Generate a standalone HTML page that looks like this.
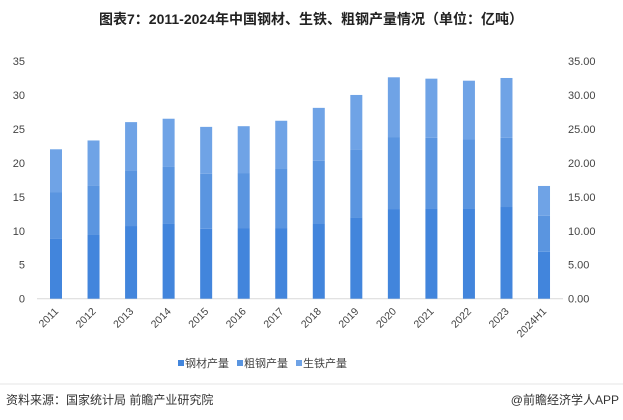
<!DOCTYPE html>
<html><head><meta charset="utf-8"><style>
body{margin:0;width:623px;height:420px;background:#fff;overflow:hidden;font-family:"Liberation Sans","Noto Sans CJK SC",sans-serif;}
svg{position:absolute;left:0;top:0}
</style></head><body>
<svg width="623" height="420">
<text x="311" y="24" text-anchor="middle" font-size="14" font-weight="bold" fill="#222">图表7：2011-2024年中国钢材、生铁、粗钢产量情况（单位：亿吨）</text>
<g id="axes"></g>
<g id="bars"></g>
<g id="legend"></g>
<line x1="0" y1="384" x2="623" y2="384" stroke="#e6e6e6" stroke-width="1"/>
<text x="6" y="404" font-size="12" fill="#333">资料来源：国家统计局 前瞻产业研究院</text>
<text x="619" y="404" font-size="12" fill="#333" text-anchor="end">@前瞻经济学人APP</text>
</svg>
<script>
const categories=["2011","2012","2013","2014","2015","2016","2017","2018","2019","2020","2021","2022","2023","2024H1"];
const steel=[8.8,9.5,10.7,11.1,10.3,10.4,10.4,11.0,12.0,13.2,13.3,13.3,13.5,6.9];
const crude=[6.9,7.2,8.2,8.3,8.1,8.1,8.7,9.3,9.9,10.6,10.4,10.2,10.2,5.3];
const pig=[6.3,6.6,7.1,7.1,6.9,6.9,7.1,7.8,8.1,8.8,8.7,8.6,8.8,4.4];
const leftTicks=[0,5,10,15,20,25,30,35];
const rightTicks=["0.00","5.00","10.00","15.00","20.00","25.00","30.00","35.00"];
const seriesNames=["钢材产量","粗钢产量","生铁产量"];
const colors=["#4285dc","#5a95e0","#6fa3e6"];
const NS="http://www.w3.org/2000/svg";
const y0=298.7,yTop=61,x0=56,step=37.54,bw=12,xAxisL=37,xAxisR=563;
const y=v=>y0-(v/35)*(y0-yTop);
const x=i=>x0+i*step;
function mk(t,a,p){const e=document.createElementNS(NS,t);for(const k in a)e.setAttribute(k,a[k]);p.appendChild(e);return e;}
const axes=document.getElementById('axes');
leftTicks.forEach((v,i)=>{
 const t=mk('text',{x:25,y:y(v)+4,'text-anchor':'end','font-size':11,fill:'#444'},axes);t.textContent=v;
 
 
 const r=mk('text',{x:568,y:y(v)+4,'font-size':11,fill:'#444'},axes);r.textContent=rightTicks[i];
 
 
});
const ax=mk('line',{x1:xAxisL,y1:y0,x2:xAxisR,y2:y0,stroke:'#d9d9d9'},axes);


const bars=document.getElementById('bars');
categories.forEach((c,i)=>{
 const vals=[steel[i],crude[i],pig[i]];let acc=0;
 vals.forEach((v,s)=>{
  const r=mk('rect',{x:x(i)-bw/2,y:y(acc+v),width:bw,height:y(acc)-y(acc+v),fill:colors[s]},bars);
  
  
  acc+=v;
 });
 const t=mk('text',{x:x(i)+3,y:312,'text-anchor':'end','font-size':10.5,fill:'#444',transform:`rotate(-45 ${x(i)+3} 312)`},axes);
 t.textContent=c;
 
 
});
const lg=document.getElementById('legend');
seriesNames.forEach((n,i)=>{
 const lx=178+i*59;
 const r=mk('rect',{x:lx,y:360,width:6,height:6,fill:colors[i]},lg);
 
 
 const t=mk('text',{x:lx+7,y:367,'font-size':11,fill:'#444'},lg);t.textContent=n;
 
 
});
</script>
</body></html>
